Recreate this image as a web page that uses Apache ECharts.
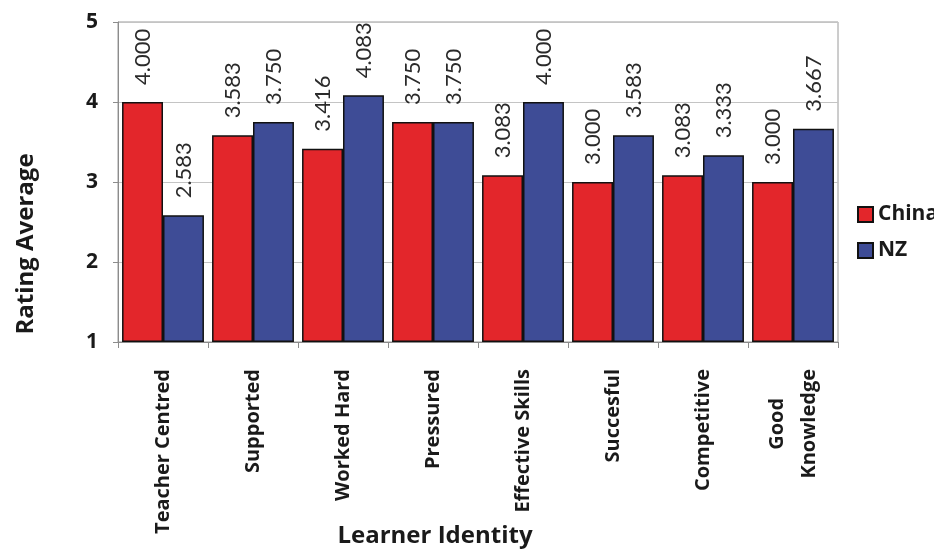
<!DOCTYPE html>
<html>
<head>
<meta charset="utf-8">
<script src="https://cdn.jsdelivr.net/npm/echarts@6/dist/echarts.min.js"></script>
<style>
  html, body { margin: 0; padding: 0; background: #ffffff; }
  #chart { width: 934px; height: 549px; }
</style>
</head>
<body>
<div id="chart"></div>
<script>
// Learner identity ratings, China vs NZ
const categories = ['Teacher Centred', 'Supported', 'Worked Hard', 'Pressured',
  'Effective Skills', 'Succesful', 'Competitive', 'Good\nKnowledge'];
const chinaValues = [4.000, 3.583, 3.416, 3.750, 3.083, 3.000, 3.083, 3.000];
const nzValues = [2.583, 3.750, 4.083, 3.750, 4.000, 3.583, 3.333, 3.667];
const seriesNames = ['China', 'NZ'];
const yMin = 1, yMax = 5, yStep = 1;

const SANS = '"Open Sans", sans-serif';
const NUM = 'Lato, "Open Sans", sans-serif';
const TXT = '#1a1a1a';
const AXIS_GRAY = '#8c8c8c';

const valueLabel = {
  show: true,
  position: 'top',
  rotate: 90,
  align: 'left',
  verticalAlign: 'middle',
  distance: 17,
  fontFamily: NUM,
  fontSize: 22,
  color: '#2a2a2a',
  formatter: p => p.value.toFixed(3)
};

const barStyle = (color) => ({
  color: color,
  borderColor: '#111111',
  borderWidth: 1.5
});

const chart = echarts.init(document.getElementById('chart'), null, { renderer: 'canvas' });
chart.setOption({
  backgroundColor: '#ffffff',
  animation: false,
  grid: {
    left: 118, right: 96, top: 22, bottom: 207,
    outerBoundsMode: 'none',
    containLabel: false,
    show: true, borderColor: '#9a9a9a', borderWidth: 1
  },
  legend: {
    orient: 'vertical',
    left: 852, top: 199,
    itemWidth: 15, itemHeight: 15, itemGap: 15,
    icon: 'rect',
    textStyle: { fontFamily: SANS, fontWeight: 'bold', fontSize: 21, color: TXT },
    data: seriesNames
  },
  xAxis: {
    type: 'category',
    data: categories,
    axisLine: { show: true, lineStyle: { color: AXIS_GRAY, width: 1 } },
    axisTick: { show: true, length: 6, alignWithLabel: false, lineStyle: { color: AXIS_GRAY } },
    axisLabel: {
      rotate: 90,
      margin: 27,
      interval: 0,
      fontFamily: SANS,
      fontWeight: 'bold',
      fontSize: 20,
      color: TXT,
      lineHeight: 32,
      formatter: v => v.split('\n').map(l => '{c|' + l + '}').join('\n'),
      rich: { c: { align: 'center', fontFamily: SANS, fontWeight: 'bold', fontSize: 20, color: TXT, lineHeight: 32 } }
    },
    name: 'Learner Identity',
    nameLocation: 'middle',
    nameGap: 182,
    nameMoveOverlap: false,
    nameTextStyle: { fontFamily: SANS, fontWeight: 'bold', fontSize: 24, color: TXT, padding: [0, 86, 0, 0] }
  },
  yAxis: {
    type: 'value',
    min: yMin, max: yMax, interval: yStep,
    startValue: yMin,
    axisLine: { show: true, lineStyle: { color: AXIS_GRAY, width: 1 } },
    axisTick: { show: true, length: 5, lineStyle: { color: AXIS_GRAY } },
    splitLine: { show: true, lineStyle: { color: '#c4c4c4', width: 1 } },
    axisLabel: { margin: 20, fontFamily: SANS, fontWeight: 'bold', fontSize: 21, color: TXT },
    name: 'Rating Average',
    nameLocation: 'middle',
    nameRotate: 90,
    nameGap: 80,
    nameMoveOverlap: false,
    nameTextStyle: { fontFamily: SANS, fontWeight: 'bold', fontSize: 24, color: TXT, padding: [0, 124, 0, 0] }
  },
  series: [
    {
      name: seriesNames[0], type: 'bar', data: chinaValues,
      barGap: '0%', barCategoryGap: '9%',
      itemStyle: barStyle('#e3262b'),
      label: valueLabel
    },
    {
      name: seriesNames[1], type: 'bar', data: nzValues,
      barGap: '0%', barCategoryGap: '9%',
      itemStyle: barStyle('#3e4c96'),
      label: valueLabel
    }
  ]
});
</script>
</body>
</html>
